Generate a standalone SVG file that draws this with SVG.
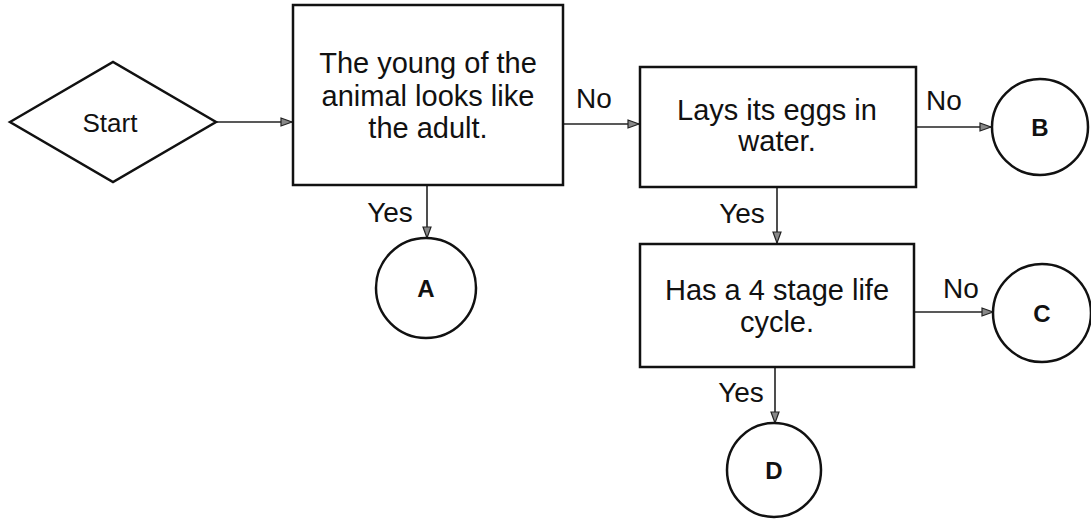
<svg xmlns="http://www.w3.org/2000/svg" width="1091" height="523" viewBox="0 0 1091 523">
<defs>
<style>
.shape{fill:#fff;stroke:#111;stroke-width:2.5}
.conn{stroke:#222;stroke-width:1.6;fill:none;marker-end:url(#arr)}
.t{font-family:"Liberation Sans",Arial,sans-serif;fill:#111;text-anchor:middle}
.box{font-size:29px}
.lbl{font-size:28px}
.circ{font-size:24px;font-weight:bold}
</style>
<marker id="arr" markerWidth="13" markerHeight="10" refX="12" refY="5" orient="auto" markerUnits="userSpaceOnUse">
<path d="M1,1 L12,5 L1,9 z" fill="#888" stroke="#222" stroke-width="1.2"/>
</marker>
</defs>
<rect width="1091" height="523" fill="#fff"/>
<g id="connectors">
<line class="conn" x1="216" y1="122" x2="292" y2="122"/>
<line class="conn" x1="563" y1="124" x2="639" y2="124"/>
<line class="conn" x1="427" y1="185" x2="427" y2="238"/>
<line class="conn" x1="916" y1="127" x2="991" y2="127"/>
<line class="conn" x1="777" y1="187" x2="777" y2="243"/>
<line class="conn" x1="914" y1="312" x2="993" y2="312"/>
<line class="conn" x1="775" y1="367" x2="775" y2="423"/>
<text class="t lbl" x="594" y="108">No</text>
<text class="t lbl" x="390" y="222">Yes</text>
<text class="t lbl" x="944" y="110">No</text>
<text class="t lbl" x="742" y="223">Yes</text>
<text class="t lbl" x="961" y="298">No</text>
<text class="t lbl" x="741" y="402">Yes</text>
</g>
<g id="start">
<polygon class="shape" points="10,122 113,62 216,122 113,182"/>
<text class="t" x="110" y="132" font-size="26">Start</text>
</g>
<g id="q1">
<rect class="shape" x="293" y="5" width="270" height="180"/>
<text class="t box" x="428" y="73">The young of the</text>
<text class="t box" x="428" y="106">animal looks like</text>
<text class="t box" x="428" y="138">the adult.</text>
</g>
<g id="q2">
<rect class="shape" x="640" y="67" width="276" height="120"/>
<text class="t box" x="777" y="120">Lays its eggs in</text>
<text class="t box" x="777" y="151">water.</text>
</g>
<g id="q3">
<rect class="shape" x="640" y="244" width="274" height="123"/>
<text class="t box" x="777" y="300">Has a 4 stage life</text>
<text class="t box" x="777" y="332">cycle.</text>
</g>
<g id="A">
<circle class="shape" cx="426" cy="288" r="50"/>
<text class="t circ" x="426" y="297">A</text>
</g>
<g id="B">
<circle class="shape" cx="1040" cy="127" r="48"/>
<text class="t circ" x="1040" y="136">B</text>
</g>
<g id="C">
<circle class="shape" cx="1042" cy="313" r="49"/>
<text class="t circ" x="1042" y="322">C</text>
</g>
<g id="D">
<circle class="shape" cx="774" cy="470" r="47"/>
<text class="t circ" x="774" y="479">D</text>
</g>
</svg>
